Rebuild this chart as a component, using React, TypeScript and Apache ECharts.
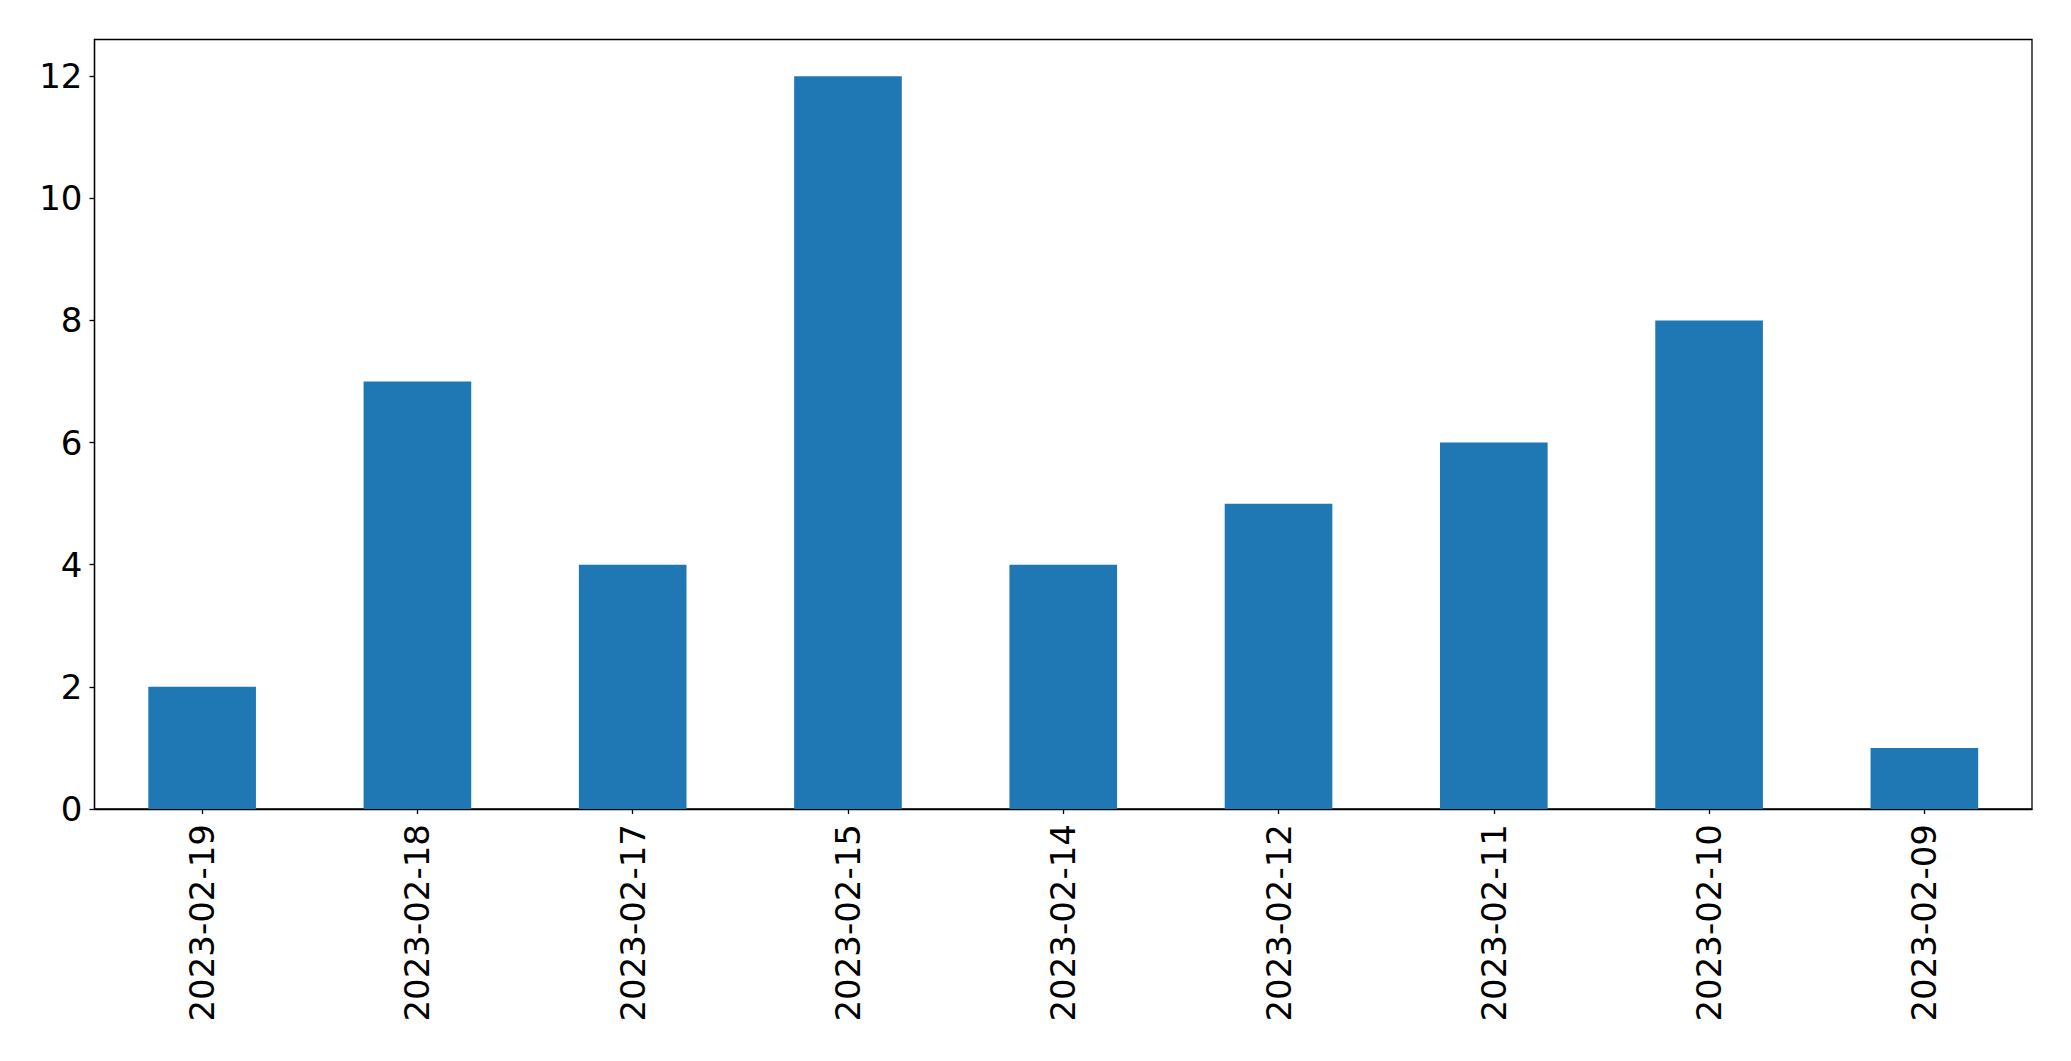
import React, { useEffect, useRef } from "react";
import * as echarts from "echarts";

const categories = [
  "2023-02-19",
  "2023-02-18",
  "2023-02-17",
  "2023-02-15",
  "2023-02-14",
  "2023-02-12",
  "2023-02-11",
  "2023-02-10",
  "2023-02-09",
];
const counts = [2, 7, 4, 12, 4, 5, 6, 8, 1];
const yTicks = [0, 2, 4, 6, 8, 10, 12];

export default function App() {
  const ref = useRef<HTMLDivElement>(null);
  useEffect(() => {
    if (!ref.current) return;
    const chart = echarts.init(ref.current, null, { renderer: "svg" });
    const font = "DejaVu Sans";
    chart.setOption({
      animation: false,
      backgroundColor: "#ffffff",
      grid: {
        left: 94.5,
        right: 39,
        top: 39.5,
        bottom: 252,
        show: true,
        borderColor: "#000000",
        borderWidth: 1.3,
        backgroundColor: "transparent",
      },
      xAxis: {
        type: "category",
        data: categories,
        boundaryGap: true,
        axisLine: { show: true, lineStyle: { color: "#000000", width: 1.3 } },
        axisTick: {
          show: true,
          alignWithLabel: true,
          length: 5,
          lineStyle: { color: "#000000", width: 1.3 },
        },
        axisLabel: {
          rotate: 90,
          margin: 15,
          color: "#000000",
          fontFamily: font,
          fontSize: 34,
          interval: 0,
        },
        splitLine: { show: false },
      },
      yAxis: {
        type: "value",
        min: 0,
        max: 12.6,
        interval: 2,
        axisLine: { show: true, lineStyle: { color: "#000000", width: 1.3 } },
        axisTick: {
          show: true,
          length: 5,
          customValues: yTicks,
          lineStyle: { color: "#000000", width: 1.3 },
        },
        axisLabel: {
          margin: 12,
          color: "#000000",
          fontFamily: font,
          fontSize: 34,
          customValues: yTicks,
        },
        splitLine: { show: false },
      },
      series: [
        {
          type: "bar",
          data: counts,
          barWidth: "50%",
          itemStyle: { color: "#1f77b4" },
        },
      ],
    });
    return () => chart.dispose();
  }, []);
  return (
    <div
      ref={ref}
      style={{ position: "fixed", left: 0, top: 0, width: 2071, height: 1061 }}
    />
  );
}
